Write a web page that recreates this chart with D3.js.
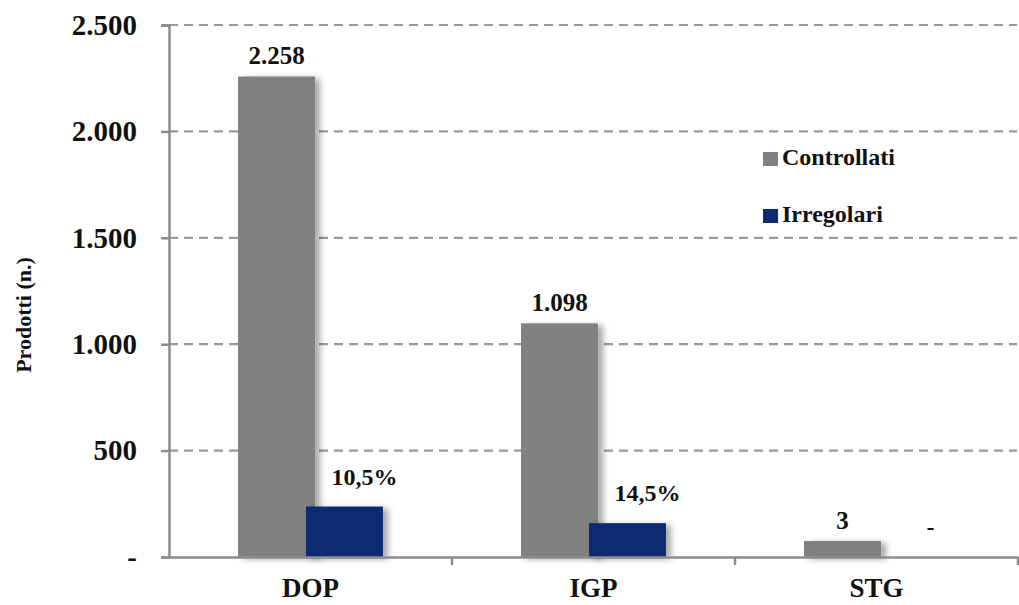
<!DOCTYPE html>
<html>
<head>
<meta charset="utf-8">
<script src="https://cdn.jsdelivr.net/npm/d3@7"></script>
<style>
  html, body { margin: 0; padding: 0; background: #fff; }
  svg { display: block; }
  text { font-family: "Liberation Serif", "DejaVu Serif", serif; font-weight: bold; fill: #111; }
</style>
</head>
<body>
<svg id="chart" width="1019" height="605"></svg>
<script>
// Product categories and series
const categories = ["DOP", "IGP", "STG"];
const controllati = [2258, 1098, 3];
const irregolari = [237, 159, 0];
const controllatiLabels = ["2.258", "1.098", "3"];
const irregolariLabels = ["10,5%", "14,5%", "-"];
const yTicks = [0, 500, 1000, 1500, 2000, 2500];
const yTickLabels = ["-", "500", "1.000", "1.500", "2.000", "2.500"];
const seriesNames = ["Controllati", "Irregolari"];
const seriesColors = ["#818181", "#0c2a72"];
const yTitle = "Prodotti (n.)";

const svg = d3.select("#chart");
const margin = { left: 169, right: 1, top: 25, bottom: 48 };
const W = 1019, H = 605;

const x = d3.scaleBand().domain(categories).range([margin.left, W - margin.right]).padding(0);
const y = d3.scaleLinear().domain([0, 2500]).range([H - margin.bottom, margin.top]);

// soft drop shadow on the bars
const defs = svg.append("defs");
const f = defs.append("filter").attr("id", "shadow")
  .attr("x", "-20%").attr("y", "-20%").attr("width", "150%").attr("height", "140%");
f.append("feDropShadow").attr("dx", 5).attr("dy", 2).attr("stdDeviation", 3)
  .attr("flood-color", "#000").attr("flood-opacity", 0.35);

// dashed gridlines
svg.append("g").selectAll("line").data(yTicks.filter(d => d > 0)).join("line")
  .attr("x1", margin.left).attr("x2", W - 2)
  .attr("y1", d => y(d)).attr("y2", d => y(d))
  .attr("stroke", "#9a9a9a").attr("stroke-width", 2.2)
  .attr("stroke-dasharray", "9,6");

// y axis
const yAxis = d3.axisLeft(y).tickValues(yTicks).tickSize(8)
  .tickFormat((d, i) => yTickLabels[i]);
const gy = svg.append("g").attr("transform", `translate(${margin.left},0)`).call(yAxis);
gy.select(".domain").attr("stroke", "#8c8c8c").attr("stroke-width", 2.5);
gy.selectAll(".tick line").attr("stroke", "#8c8c8c").attr("stroke-width", 2.5);
gy.selectAll(".tick text").attr("x", -32).attr("font-size", 29)
  .attr("font-family", "Liberation Serif, serif").attr("font-weight", "bold").attr("fill", "#111");

// bars
const step = x.step();
const barW = step * 0.272;
const overlap = step * 0.032;
const groupW = 2 * barW - overlap;
const MIN_BAR_PX = 16; // keeps very small values visible
const barH = v => v > 0 ? Math.max(y(0) - y(v), MIN_BAR_PX) : 0;

const series = [controllati, irregolari];
series.forEach((vals, s) => {
  svg.append("g").attr("filter", "url(#shadow)").selectAll("rect").data(categories).join("rect")
    .attr("x", c => x(c) + step / 2 - groupW / 2 + s * (barW - overlap))
    .attr("width", barW)
    .attr("y", (c, i) => y(0) - barH(vals[i]))
    .attr("height", (c, i) => barH(vals[i]))
    .attr("fill", seriesColors[s]);
});

// x axis
const xAxis = d3.axisBottom(x).tickSize(0).tickFormat(d => d);
const gx = svg.append("g").attr("transform", `translate(0,${y(0)})`).call(xAxis);
gx.select(".domain").attr("stroke", "#8c8c8c").attr("stroke-width", 2.5);
gx.selectAll(".tick text").attr("y", 40).attr("dy", 0).attr("font-size", 27)
  .attr("font-family", "Liberation Serif, serif").attr("font-weight", "bold").attr("fill", "#111");
// category separators
svg.append("g").selectAll("line").data(categories).join("line")
  .attr("x1", c => x(c) + step).attr("x2", c => x(c) + step)
  .attr("y1", y(0)).attr("y2", y(0) + 8)
  .attr("stroke", "#8c8c8c").attr("stroke-width", 2.5);

// value labels
svg.append("g").selectAll("text").data(categories).join("text")
  .attr("x", c => x(c) + step / 2 - groupW / 2 + barW / 2)
  .attr("y", (c, i) => y(0) - barH(controllati[i]) - 12)
  .attr("text-anchor", "middle").attr("font-size", 25)
  .text((c, i) => controllatiLabels[i]);

svg.append("g").selectAll("text").data(categories).join("text")
  .attr("x", c => x(c) + step / 2 - groupW / 2 + (barW - overlap) + barW / 2 + 20)
  .attr("y", (c, i) => y(0) - barH(irregolari[i]) - 22)
  .attr("text-anchor", "middle").attr("font-size", 24)
  .text((c, i) => irregolariLabels[i]);

// y title
svg.append("text")
  .attr("transform", `translate(31,${(y(0) + y(2500)) / 2 + 24}) rotate(-90)`)
  .attr("text-anchor", "middle").attr("font-size", 22)
  .text(yTitle);

// legend
const lg = svg.append("g").attr("transform", "translate(763,152)");
seriesNames.forEach((n, i) => {
  const g = lg.append("g").attr("transform", `translate(0,${i * 57})`);
  g.append("rect").attr("width", 15).attr("height", 14).attr("fill", seriesColors[i]);
  g.append("text").attr("x", 19).attr("y", 13).attr("font-size", 24).text(n);
});
</script>
</body>
</html>
